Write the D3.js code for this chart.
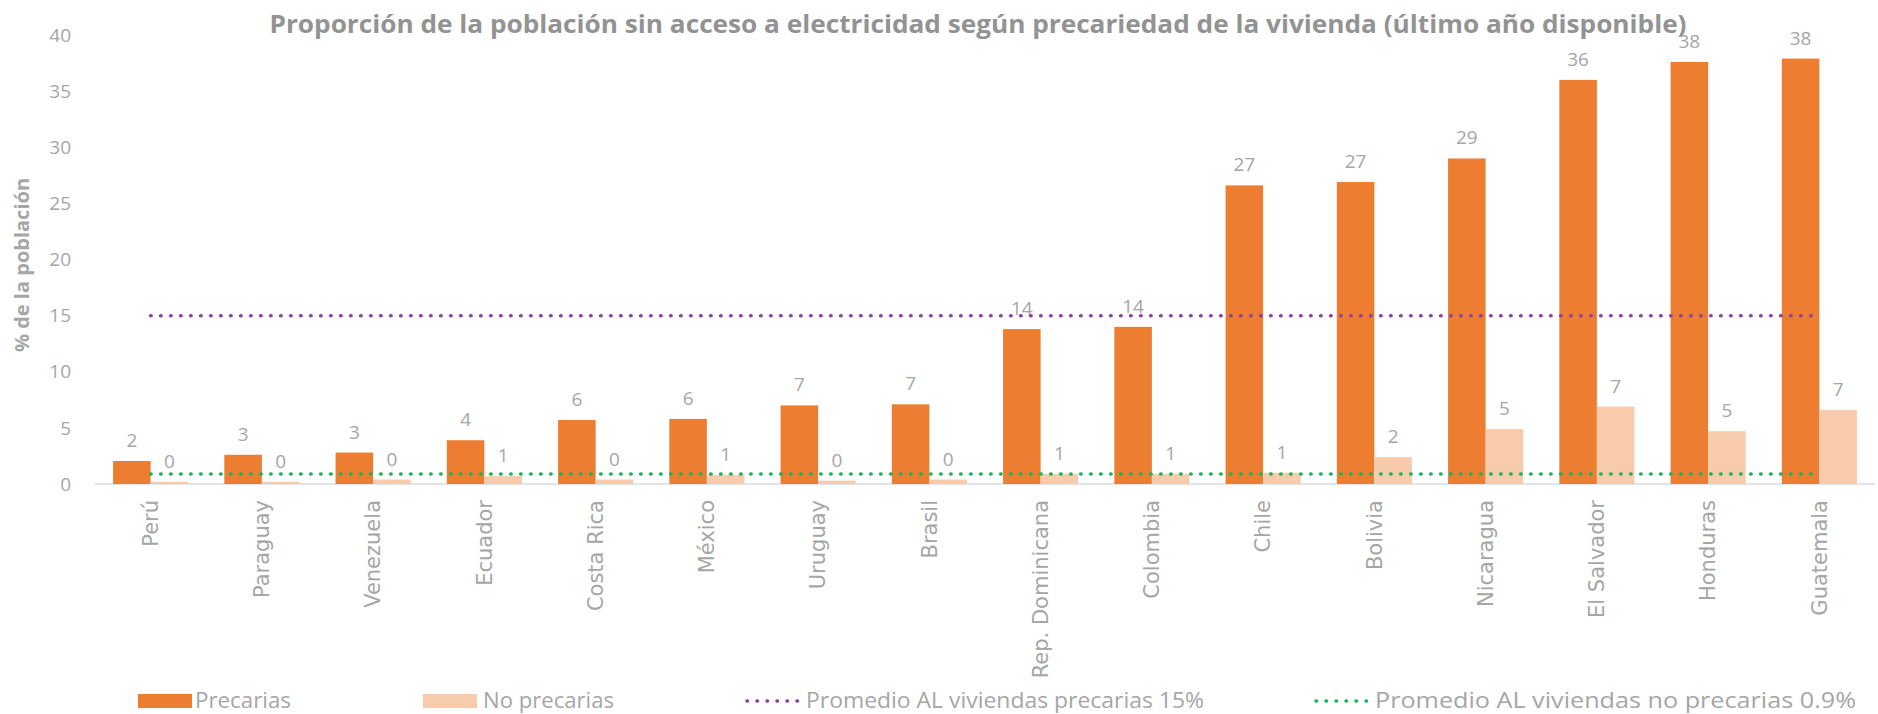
<!DOCTYPE html>
<html>
<head>
<meta charset="utf-8">
<script src="https://cdn.jsdelivr.net/npm/d3@7"></script>
<style>
	body { margin: 0; background: #ffffff; }
	text { font-family: "Open Sans", sans-serif; }
</style>
</head>
<body>
<div id="chart"></div>
<script>
// chart data
var countries = ["Perú", "Paraguay", "Venezuela", "Ecuador", "Costa Rica", "México", "Uruguay", "Brasil",
	"Rep. Dominicana", "Colombia", "Chile", "Bolivia", "Nicaragua", "El Salvador", "Honduras", "Guatemala"];
var precarias = [2.05, 2.6, 2.8, 3.9, 5.7, 5.8, 7.0, 7.1, 13.8, 14.0, 26.6, 26.9, 29.0, 36.0, 37.6, 37.9];
var noPrecarias = [0.2, 0.2, 0.4, 0.7, 0.4, 0.8, 0.3, 0.4, 0.9, 0.9, 1.0, 2.4, 4.9, 6.9, 4.7, 6.6];
var promPrecarias = 15;
var promNoPrecarias = 0.9;
var yTicks = [0, 5, 10, 15, 20, 25, 30, 35, 40];
var seriesNames = ["Precarias", "No precarias", "Promedio AL viviendas precarias 15%", "Promedio AL viviendas no precarias 0.9%"];

var width = 1878, height = 714;
var colPrec = "#ed7d31", colNoPrec = "#f8cbad";
var colPurple = "#8e3fa6", colGreen = "#19b45a";
var grey = "#a6a6a6";

var svg = d3.select("#chart").append("svg")
	.attr("width", width)
	.attr("height", height);

var x = d3.scaleBand()
	.domain(countries)
	.range([95, 1875])
	.paddingInner(0.325)
	.paddingOuter(0.1625);

var x1 = d3.scaleBand()
	.domain(["p", "n"])
	.range([0, x.bandwidth()]);

var y = d3.scaleLinear()
	.domain([0, 40])
	.range([484, 35]);

// title
svg.append("text")
	.attr("x", 978)
	.attr("y", 33)
	.attr("text-anchor", "middle")
	.attr("textLength", 1417)
	.attr("lengthAdjust", "spacingAndGlyphs")
	.style("font-size", "25px")
	.style("font-weight", "bold")
	.style("fill", "#939393")
	.text("Proporción de la población sin acceso a electricidad según precariedad de la vivienda (último año disponible)");

// y axis label
svg.append("text")
	.attr("transform", "translate(29,265) rotate(-90)")
	.attr("text-anchor", "middle")
	.style("font-size", "20px")
	.style("font-weight", "bold")
	.style("fill", grey)
	.text("% de la población");

// y ticks (no axis line)
svg.selectAll("text.ytick")
	.data(yTicks)
	.enter()
	.append("text")
	.attr("class", "ytick")
	.attr("x", 71)
	.attr("y", function(d){ return y(d); })
	.attr("dy", "0.35em")
	.attr("text-anchor", "end")
	.style("font-size", "19px")
	.style("fill", grey)
	.text(function(d){ return d; });

// baseline
svg.append("line")
	.attr("x1", x.range()[0])
	.attr("x2", x.range()[1])
	.attr("y1", y(0))
	.attr("y2", y(0))
	.attr("stroke", "#e3e3e8")
	.attr("stroke-width", 2);

var groups = svg.selectAll("g.grp")
	.data(countries)
	.enter()
	.append("g")
	.attr("class", "grp")
	.attr("transform", function(d){ return "translate(" + x(d) + ",0)"; });

groups.append("rect")
	.attr("x", x1("p"))
	.attr("y", function(d, i){ return y(precarias[i]); })
	.attr("width", x1.bandwidth())
	.attr("height", function(d, i){ return y(0) - y(precarias[i]); })
	.attr("fill", colPrec);

groups.append("rect")
	.attr("x", x1("n"))
	.attr("y", function(d, i){ return y(noPrecarias[i]); })
	.attr("width", x1.bandwidth())
	.attr("height", function(d, i){ return y(0) - y(noPrecarias[i]); })
	.attr("fill", colNoPrec);

var fmt = d3.format(".0f");
groups.append("text")
	.attr("x", x1("p") + x1.bandwidth() / 2)
	.attr("y", function(d, i){ return y(precarias[i]) - 14; })
	.attr("text-anchor", "middle")
	.style("font-size", "19px")
	.style("fill", grey)
	.text(function(d, i){ return fmt(precarias[i]); });

groups.append("text")
	.attr("x", x1("n") + x1.bandwidth() / 2)
	.attr("y", function(d, i){ return y(noPrecarias[i]) - 14; })
	.attr("text-anchor", "middle")
	.style("font-size", "19px")
	.style("fill", grey)
	.text(function(d, i){ return fmt(noPrecarias[i]); });

// average lines
var cx0 = x(countries[0]) + x.bandwidth() / 2;
var cx1 = x(countries[countries.length - 1]) + x.bandwidth() / 2;
[[promPrecarias, colPurple], [promNoPrecarias, colGreen]].forEach(function(p){
	svg.append("line")
		.attr("x1", cx0)
		.attr("x2", cx1)
		.attr("y1", y(p[0]))
		.attr("y2", y(p[0]))
		.attr("stroke", p[1])
		.attr("stroke-width", 3.5)
		.attr("stroke-linecap", "round")
		.attr("stroke-dasharray", "0.5,9.5");
});

// category labels
groups.append("text")
	.attr("transform", "translate(" + (x.bandwidth() / 2) + ",500) rotate(-90)")
	.attr("dy", "0.35em")
	.attr("text-anchor", "end")
	.style("font-family", "'DejaVu Sans', sans-serif")
	.style("font-size", "21px")
	.style("fill", grey)
	.text(function(d){ return d; });

// legend
var legY = 701;
var leg = [
	{ kind: "rect", color: colPrec, x: 138, tx: 195, tw: 96 },
	{ kind: "rect", color: colNoPrec, x: 423, tx: 483, tw: 131 },
	{ kind: "dot", color: colPurple, x: 747, tx: 806, tw: 398 },
	{ kind: "dot", color: colGreen, x: 1316, tx: 1375, tw: 481 }
];
leg.forEach(function(l, i){
	if (l.kind == "rect") {
		svg.append("rect")
			.attr("x", l.x)
			.attr("y", legY - 7)
			.attr("width", 54)
			.attr("height", 14)
			.attr("fill", l.color);
	} else {
		svg.append("line")
			.attr("x1", l.x)
			.attr("x2", l.x + 52)
			.attr("y1", legY)
			.attr("y2", legY)
			.attr("stroke", l.color)
			.attr("stroke-width", 3.5)
			.attr("stroke-linecap", "round")
			.attr("stroke-dasharray", "0.5,9.5");
	}
	svg.append("text")
		.attr("x", l.tx)
		.attr("y", legY)
		.attr("dy", "0.35em")
		.attr("textLength", l.tw)
		.attr("lengthAdjust", "spacingAndGlyphs")
		.style("font-size", "21px")
		.style("fill", grey)
		.text(seriesNames[i]);
});
</script>
</body>
</html>
